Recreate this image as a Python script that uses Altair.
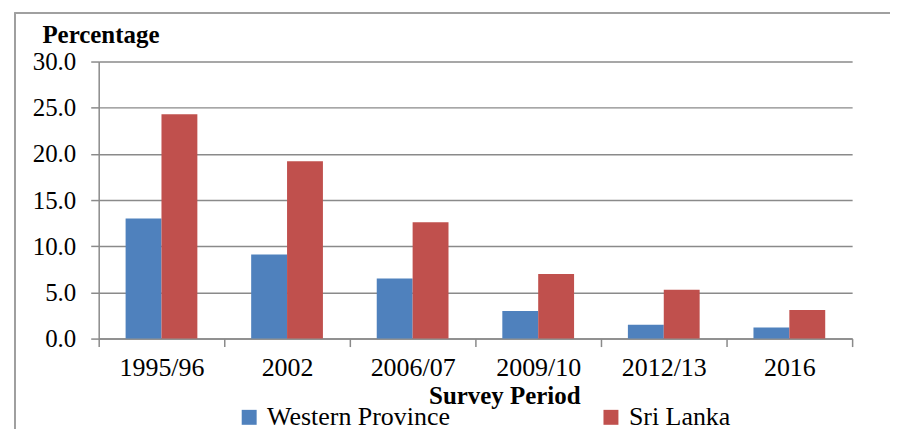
import altair as alt
import pandas as pd

periods = ["1995/96", "2002", "2006/07", "2009/10", "2012/13", "2016"]
series = ["Western Province", "Sri Lanka"]
western = [13.0, 9.1, 6.5, 3.0, 1.5, 1.2]
srilanka = [24.3, 19.2, 12.6, 7.0, 5.3, 3.1]
colors = ["#4F81BD", "#C0504D"]
y_ticks = [0, 5, 10, 15, 20, 25, 30]

rows = []
for p, w, s in zip(periods, western, srilanka):
    rows.append({"period": p, "series": series[0], "value": w})
    rows.append({"period": p, "series": series[1], "value": s})
df = pd.DataFrame(rows)

FONT = "Liberation Serif"
GRAY = "#8a8a8a"

bars = alt.Chart(df).mark_bar().encode(
    x=alt.X("period:N", sort=periods,
            scale=alt.Scale(paddingInner=0, paddingOuter=0),
            axis=alt.Axis(title="Survey Period", labelAngle=0, tickBand="extent",
                          labelFontSize=26, labelPadding=8, tickSize=8,
                          titleFontSize=25, titleFontWeight="bold",
                          titleX=407, titleY=65, titleAlign="center",
                          titleBaseline="alphabetic")),
    xOffset=alt.XOffset("series:N", sort=series,
                        scale=alt.Scale(paddingInner=0, paddingOuter=0.75)),
    y=alt.Y("value:Q", scale=alt.Scale(domain=[0, 30]),
            axis=alt.Axis(title="Percentage", values=y_ticks, format=".1f",
                          labelFontSize=25, labelPadding=15, tickSize=8,
                          titleAngle=0, titleAlign="left", titleX=-57, titleY=-19,
                          titleBaseline="alphabetic", titleFontSize=25,
                          titleFontWeight="bold")),
    color=alt.Color("series:N", sort=series,
                    scale=alt.Scale(domain=series, range=colors),
                    legend=alt.Legend(title=None, orient="none", direction="horizontal",
                                      legendX=138, legendY=344, symbolType="square",
                                      symbolSize=225, symbolStrokeWidth=0,
                                      labelFontSize=26, labelOffset=5, labelLimit=400,
                                      padding=0, columnPadding=148)),
)

frame_left = alt.Chart(df).mark_rule(color="#a0a0a0", strokeWidth=1.5).encode(
    x=alt.value(-84), y=alt.value(-49), y2=alt.value(380))
frame_top = alt.Chart(df).mark_rule(color="#a0a0a0", strokeWidth=1.5).encode(
    y=alt.value(-49), x=alt.value(-84), x2=alt.value(820))

chart = alt.layer(bars, frame_left, frame_top).properties(
    width=756, height=278,
    autosize=alt.AutoSizeParams(type="none"),
    padding={"left": 91, "top": 53, "right": 38, "bottom": 90},
).configure(font=FONT).configure_view(stroke=None).configure_axis(
    domainColor=GRAY, domainWidth=1.5, tickColor=GRAY, tickWidth=1.5,
    gridColor=GRAY, gridWidth=1.5, labelColor="#000", titleColor="#000",
    labelFont=FONT, titleFont=FONT,
).configure_axisX(grid=False).configure_legend(labelFont=FONT, labelColor="#000")

chart.save("out.html", embed_options={"renderer": "svg", "actions": False})
